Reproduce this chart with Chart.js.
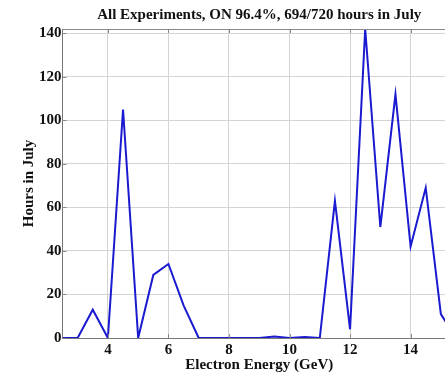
<!DOCTYPE html>
<html>
<head>
<meta charset="utf-8">
<script src="https://cdn.jsdelivr.net/npm/chart.js@4.4.1/dist/chart.umd.min.js"></script>
<style>
  html, body { margin: 0; padding: 0; background: #fff; overflow: hidden; }
  #wrap { position: relative; width: 456px; height: 376px; }
</style>
</head>
<body>
<div id="wrap"><canvas id="chart"></canvas></div>
<script>
// Electron energy (GeV) and hours in July
const energies = [2.5, 3, 3.5, 4, 4.5, 5, 5.5, 6, 6.5, 7, 7.5, 8, 8.5, 9, 9.5, 10, 10.5, 11, 11.5, 12, 12.5, 13, 13.5, 14, 14.5, 15, 15.5];
const hours = [0, 0, 13, 0, 105, 0, 29, 34, 15, 0, 0, 0, 0, 0, 0.7, 0, 0.5, 0, 63, 4, 142, 51, 112, 42, 69, 11, 0];
const xTicks = [4, 6, 8, 10, 12, 14];
const yTicks = [0, 20, 40, 60, 80, 100, 120, 140];

const serif = "'Liberation Serif', 'Times New Roman', serif";
const points = energies.map((e, i) => ({ x: e, y: hours[i] }));

const gridStyle = {
    color: '#d4d4d4',
    lineWidth: 1,
    borderDash: [1, 2],
    drawTicks: false
};

new Chart(document.getElementById('chart'), {
    type: 'line',
    data: {
        datasets: [{
            data: points,
            borderColor: '#1a1ad0',
            borderWidth: 2,
            pointRadius: 0,
            tension: 0,
            fill: false
        }]
    },
    options: {
        responsive: true,
        maintainAspectRatio: false,
        animation: false,
        layout: { padding: { left: 20, top: 3, right: 0, bottom: 2 } },
        plugins: {
            legend: { display: false },
            tooltip: { enabled: false },
            title: {
                display: true,
                fullSize: false,
                text: 'All Experiments, ON 96.4%, 694/720 hours in July',
                color: '#111',
                font: { family: serif, size: 15, weight: 'bold' },
                padding: { top: 3, bottom: 5 }
            }
        },
        scales: {
            x: {
                type: 'linear',
                min: 2.5,
                max: 15.5,
                afterBuildTicks: (axis) => { axis.ticks = xTicks.map(v => ({ value: v })); },
                grid: gridStyle,
                border: { display: true, color: '#777', width: 1 },
                ticks: {
                    color: '#111',
                    font: { family: serif, size: 15, weight: 'bold' },
                    padding: 3,
                    maxRotation: 0
                },
                title: {
                    display: true,
                    text: 'Electron Energy (GeV)',
                    color: '#111',
                    font: { family: serif, size: 15, weight: 'bold' },
                    padding: { top: -6, bottom: 0 }
                }
            },
            y: {
                type: 'linear',
                min: 0,
                max: 142,
                afterBuildTicks: (axis) => { axis.ticks = yTicks.map(v => ({ value: v })); },
                grid: gridStyle,
                border: { display: true, color: '#777', width: 1 },
                ticks: {
                    color: '#111',
                    font: { family: serif, size: 15, weight: 'bold' },
                    padding: 1
                },
                title: {
                    display: true,
                    text: 'Hours in July',
                    color: '#111',
                    font: { family: serif, size: 15, weight: 'bold' },
                    padding: { top: 0, bottom: 0 }
                }
            }
        }
    },
    plugins: [{
        // top frame line plus short inward tick marks, MATLAB style
        id: 'frameTicks',
        afterDraw(chart) {
            const { ctx, chartArea, scales } = chart;
            ctx.save();
            ctx.strokeStyle = '#888';
            ctx.lineWidth = 1;
            ctx.beginPath();
            ctx.moveTo(chartArea.left, chartArea.top + 0.5);
            ctx.lineTo(chartArea.right, chartArea.top + 0.5);
            xTicks.forEach(v => {
                const px = Math.round(scales.x.getPixelForValue(v)) + 0.5;
                ctx.moveTo(px, chartArea.bottom);
                ctx.lineTo(px, chartArea.bottom - 4);
                ctx.moveTo(px, chartArea.top);
                ctx.lineTo(px, chartArea.top + 4);
            });
            yTicks.forEach(v => {
                const py = Math.round(scales.y.getPixelForValue(v)) + 0.5;
                ctx.moveTo(chartArea.left, py);
                ctx.lineTo(chartArea.left + 4, py);
            });
            ctx.stroke();
            ctx.restore();
        }
    }]
});
</script>
</body>
</html>
